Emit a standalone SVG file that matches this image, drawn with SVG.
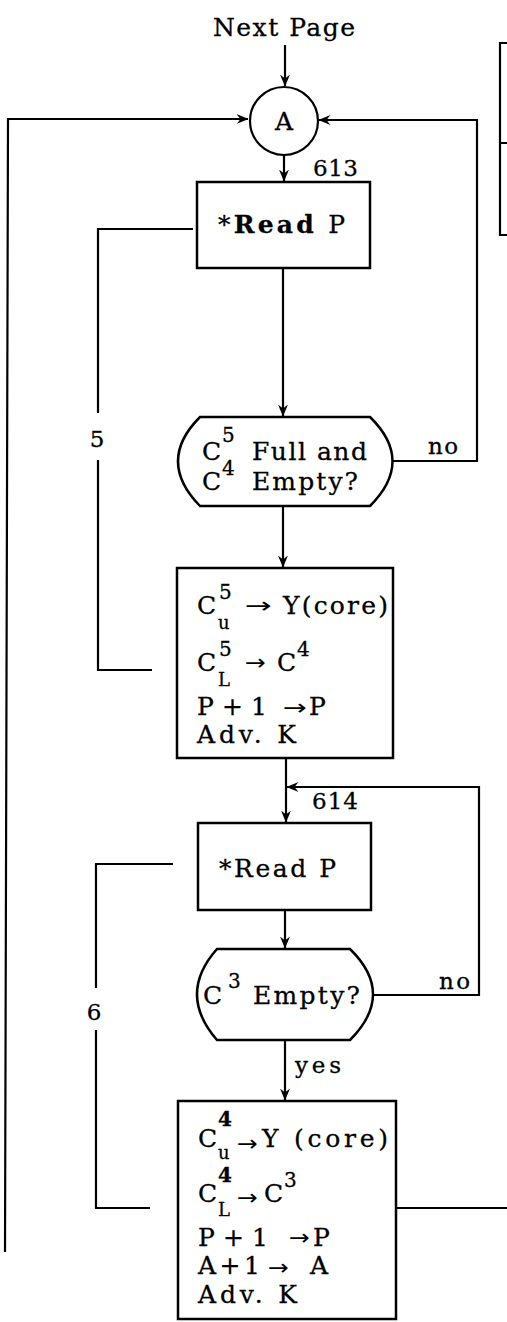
<svg xmlns="http://www.w3.org/2000/svg" width="507" height="1322" viewBox="0 0 507 1322">
<defs>
<marker id="ah" viewBox="0 0 12 10" refX="11.5" refY="5" markerWidth="12" markerHeight="10" markerUnits="userSpaceOnUse" orient="auto">
<path d="M0,0 L12,5 L0,10 L4,5 Z" fill="#000"/>
</marker>
</defs>
<style>
.ln{fill:none;stroke:#000;stroke-width:2.2}
.bx{fill:#fff;stroke:#000;stroke-width:2.5}
.t{font-family:"DejaVu Serif","Liberation Serif",serif;font-size:25px;fill:#000;stroke:#000;stroke-width:0.3}
.s{font-family:"DejaVu Serif","Liberation Serif",serif;font-size:20px;fill:#000;stroke:#000;stroke-width:0.3}
.sb{font-family:"DejaVu Serif","Liberation Serif",serif;font-size:18px;fill:#000;stroke:#000;stroke-width:0.3}
.ar{font-family:"DejaVu Sans","Liberation Sans",sans-serif;font-size:22px;fill:#000}
.lb{font-family:"DejaVu Serif","Liberation Serif",serif;font-size:23px;fill:#000;stroke:#000;stroke-width:0.3}
</style>
<rect width="507" height="1322" fill="#fff"/>
<g id="connectors">
<path class="ln" d="M285,45 V86" marker-end="url(#ah)"/>
<path class="ln" d="M5,1252 L8,119 H248" marker-end="url(#ah)"/>
<path class="ln" d="M393,461 H477 V120 H319" marker-end="url(#ah)"/>
<path class="ln" d="M284,156 V181" marker-end="url(#ah)"/>
<path class="ln" d="M283,268 V416" marker-end="url(#ah)"/>
<path class="ln" d="M193,229 H98 V413 M98,460 V670 H152"/>
<path class="ln" d="M283,506 V567" marker-end="url(#ah)"/>
<path class="ln" d="M286,758 V822" marker-end="url(#ah)"/>
<path class="ln" d="M373,995 H479 V787 H287" marker-end="url(#ah)"/>
<path class="ln" d="M285,910 V948" marker-end="url(#ah)"/>
<path class="ln" d="M285,1040 V1100" marker-end="url(#ah)"/>
<path class="ln" d="M173,864 H96 V988 M96,1030 V1208 H150"/>
<path class="ln" d="M396,1208 H507"/>
<text class="lb" x="97" y="447" text-anchor="middle">5</text>
<text class="lb" x="428" y="454" textLength="30">no</text>
<text class="lb" x="94" y="1020" text-anchor="middle">6</text>
<text class="lb" x="439" y="989" textLength="31">no</text>
<text class="lb" x="295" y="1073" textLength="46">yes</text>
<text class="lb" x="313" y="176" textLength="45">613</text>
<text class="lb" x="312" y="809" textLength="46">614</text>
</g>
<g id="next-page">
<text class="t" x="213" y="36" textLength="142">Next Page</text>
</g>
<g id="connector-A">
<circle cx="284" cy="121" r="34" fill="#fff" stroke="#000" stroke-width="2.2"/>
<text class="t" x="284" y="130" text-anchor="middle">A</text>
</g>
<g id="legend-box">
<path class="ln" d="M507,43 H500 V235 H507 M500,143 H507"/>
</g>
<g id="read-613">
<rect class="bx" x="197" y="182" width="173" height="86"/>
<text class="t" x="218" y="233" textLength="127">*<tspan font-weight="bold">Read</tspan> P</text>
</g>
<g id="decision-1">
<path class="bx" d="M200,417 H370 Q415,461 370,506 H200 Q156,461 200,417 Z"/>
<text class="t" x="202" y="460">C</text>
<text class="s" x="222" y="442">5</text>
<text class="t" x="252" y="460" textLength="115">Full and</text>
<text class="t" x="202" y="490">C</text>
<text class="s" x="222" y="475">4</text>
<text class="t" x="252" y="490" textLength="106">Empty?</text>
</g>
<g id="process-1">
<rect class="bx" x="177" y="568" width="216" height="190"/>
<text class="t" x="197" y="614">C</text>
<text class="s" x="219" y="599">5</text>
<text class="sb" x="218" y="629">u</text>
<text class="ar" x="245" y="613" textLength="27" lengthAdjust="spacingAndGlyphs">→</text>
<text class="t" x="283" y="614" textLength="105">Y(core)</text>
<text class="t" x="197" y="671">C</text>
<text class="s" x="219" y="656">5</text>
<text class="sb" x="218" y="686">L</text>
<text class="ar" x="245" y="670" textLength="21" lengthAdjust="spacingAndGlyphs">→</text>
<text class="t" x="277" y="671">C</text>
<text class="s" x="297" y="656">4</text>
<text class="t" x="197" y="715" textLength="70">P + 1</text>
<text class="ar" x="283" y="715" textLength="24" lengthAdjust="spacingAndGlyphs">→</text>
<text class="t" x="309" y="715">P</text>
<text class="t" x="197" y="743" textLength="99">Adv. K</text>
</g>
<g id="read-614">
<rect class="bx" x="198" y="823" width="173" height="87"/>
<text class="t" x="219" y="877" textLength="117">*Read P</text>
</g>
<g id="decision-2">
<path class="bx" d="M217,949 H350 Q396,994 350,1040 H217 Q177,994 217,949 Z"/>
<text class="t" x="203" y="1004">C</text>
<text class="s" x="228" y="988">3</text>
<text class="t" x="253" y="1004" textLength="107">Empty?</text>
</g>
<g id="process-2">
<rect class="bx" x="178" y="1101" width="218" height="218"/>
<text class="t" x="198" y="1147">C</text>
<text class="s" x="218" y="1126" font-weight="bold">4</text>
<text class="sb" x="218" y="1159">u</text>
<text class="ar" x="237" y="1151" textLength="21" lengthAdjust="spacingAndGlyphs">→</text>
<text class="t" x="262" y="1147" textLength="126">Y (core)</text>
<text class="t" x="198" y="1202">C</text>
<text class="s" x="218" y="1182" font-weight="bold">4</text>
<text class="sb" x="218" y="1216">L</text>
<text class="ar" x="237" y="1205" textLength="21" lengthAdjust="spacingAndGlyphs">→</text>
<text class="t" x="264" y="1202">C</text>
<text class="s" x="284" y="1187">3</text>
<text class="t" x="198" y="1246" textLength="70">P + 1</text>
<text class="ar" x="289" y="1245" textLength="21" lengthAdjust="spacingAndGlyphs">→</text>
<text class="t" x="313" y="1246">P</text>
<text class="t" x="198" y="1274" textLength="62">A + 1</text>
<text class="ar" x="268" y="1275" textLength="21" lengthAdjust="spacingAndGlyphs">→</text>
<text class="t" x="310" y="1274">A</text>
<text class="t" x="198" y="1303" textLength="99">Adv. K</text>
</g>
</svg>
